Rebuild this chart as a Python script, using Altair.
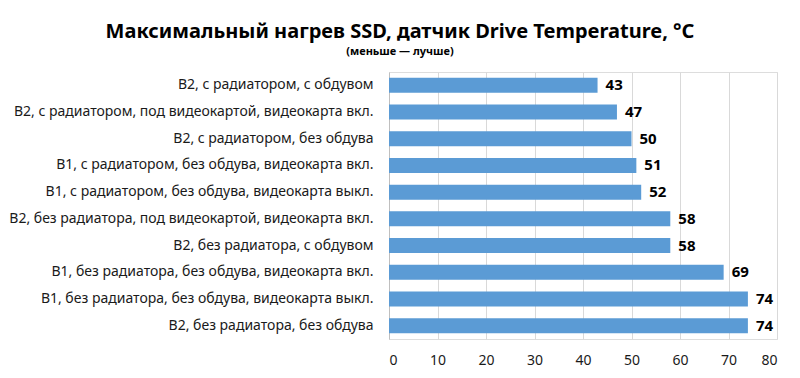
import altair as alt
import pandas as pd

categories = [
    "В2, с радиатором, с обдувом",
    "В2, с радиатором, под видеокартой, видеокарта вкл.",
    "В2, с радиатором, без обдува",
    "В1, с радиатором, без обдува, видеокарта вкл.",
    "В1, с радиатором, без обдува, видеокарта выкл.",
    "В2, без радиатора, под видеокартой, видеокарта вкл.",
    "В2, без радиатора, с обдувом",
    "В1, без радиатора, без обдува, видеокарта вкл.",
    "В1, без радиатора, без обдува, видеокарта выкл.",
    "В2, без радиатора, без обдува",
]
values = [43, 47, 50, 51, 52, 58, 58, 69, 74, 74]
x_ticks = [0, 10, 20, 30, 40, 50, 60, 70, 80]

df = pd.DataFrame({"cat": categories, "val": values})

FONT = "Noto Sans"

y_enc = alt.Y(
    "cat:N",
    sort=categories,
    title=None,
    scale=alt.Scale(paddingInner=0.44, paddingOuter=0.22),
    axis=alt.Axis(
        labelFont=FONT,
        labelFontSize=14,
        labelColor="#1a1a1a",
        labelPadding=16,
        ticks=False,
        domainColor="#BFBFBF",
        labelLimit=400,
    ),
)
x_enc = alt.X(
    "val:Q",
    title=None,
    scale=alt.Scale(domain=[0, 80], nice=False),
    axis=alt.Axis(
        values=x_ticks,
        labelFont=FONT,
        labelFontSize=14,
        labelColor="#1a1a1a",
        labelPadding=14,
        ticks=False,
        domain=False,
        grid=True,
        gridColor="#D9D9D9",
    ),
)

bars = alt.Chart(df).mark_bar(color="#5B9BD5").encode(x=x_enc, y=y_enc)
labels = alt.Chart(df).mark_text(
    align="left", baseline="middle", dx=8, font=FONT, fontSize=15, fontWeight="bold", color="#000000"
).encode(x="val:Q", y=alt.Y("cat:N", sort=categories), text="val:Q")

chart = (
    alt.layer(bars, labels)
    .properties(
        width=388,
        height=267,
        autosize=alt.AutoSizeParams(type="none"),
        padding={"left": 381, "top": 64, "right": 15, "bottom": 30},
        title=alt.TitleParams(
            text="Максимальный нагрев SSD, датчик Drive Temperature, °C",
            subtitle="(меньше — лучше)",
            font=FONT,
            fontSize=20,
            fontWeight="bold",
            color="#000000",
            subtitleFont=FONT,
            subtitleFontSize=11,
            subtitleFontWeight="bold",
            subtitleColor="#000000",
            subtitlePadding=4,
            anchor="middle",
            dx=-183,
            offset=15,
        ),
    )
    .configure_view(stroke=None)
    .configure(background="white")
)

chart.save("out.html", embed_options={"renderer": "svg", "actions": False})
